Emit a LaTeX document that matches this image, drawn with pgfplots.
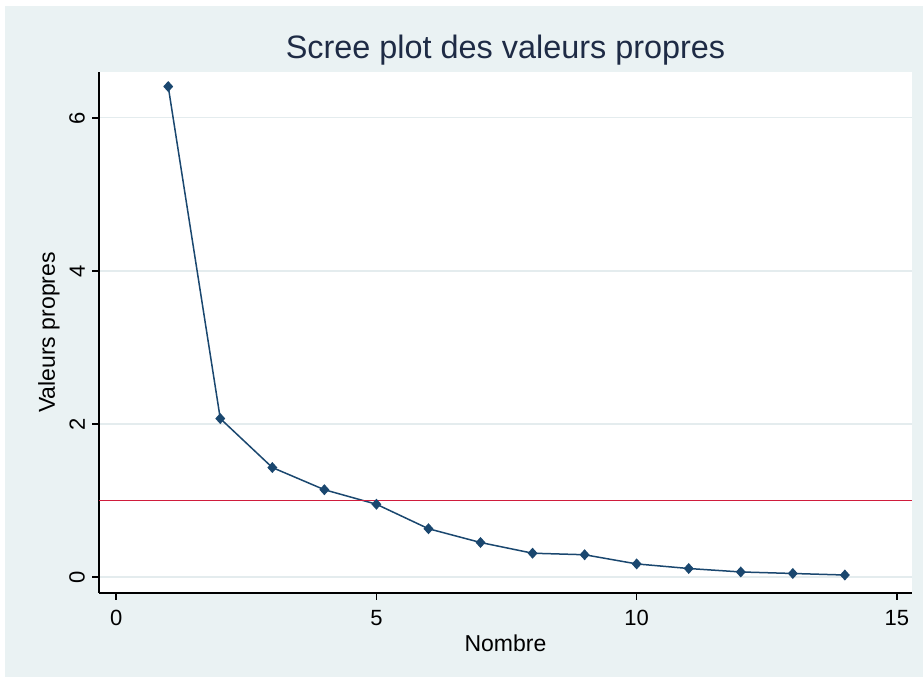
\documentclass[border=0pt]{standalone}
\usepackage{pgfplots}
\pgfplotsset{compat=1.18}
\usepackage{fontspec}
\setmainfont{Liberation Sans}
\definecolor{stbg}{HTML}{EAF2F3}
\definecolor{stgrid}{HTML}{E4ECEE}
\definecolor{stnavy}{HTML}{1A476F}
\definecolor{stred}{HTML}{D01C3C}
\definecolor{sttitle}{HTML}{1E2B45}

\begin{document}
\begin{tikzpicture}
	\fill[white] (0,0) rectangle (461.5pt,340pt);
	\fill[stbg] (2.5pt,1.5pt) rectangle (461.5pt,337pt);
	\begin{axis}[
		at={(49.5pt,43.5pt)}, anchor=south west,
		width=406.5pt, height=260.5pt, scale only axis,
		xmin=-0.33, xmax=15.29,
		ymin=-0.21, ymax=6.60,
		axis x line*=bottom, axis y line*=left,
		axis line style={black, line width=0.8pt, -},
		axis background/.style={fill=white},
		xtick={0,5,10,15}, ytick={0,2,4,6},
		tick align=outside, major tick length=3.5pt,
		tick style={black, line width=0.8pt},
		ymajorgrids, grid style={stgrid, line width=0.6pt},
		/pgf/number format/assume math mode=true,
		ticklabel style={font=\fontsize{11}{13}\selectfont},
		xticklabel style={yshift=-1.5pt},
		yticklabel style={rotate=90, anchor=south},
		xlabel={Nombre}, ylabel={Valeurs propres},
		label style={font=\fontsize{11.5}{14}\selectfont},
		xlabel style={at={(axis description cs:0.5,-0.096)}, anchor=center},
		ylabel style={at={(axis description cs:-0.0615,0.5)}, anchor=center},
		title={Scree plot des valeurs propres},
		title style={font=\fontsize{16.2}{19}\selectfont, color=sttitle,
			at={(axis description cs:0.5,1.002)}, anchor=base},
		]
		\addplot[stnavy, line width=0.75pt, mark=diamond*, mark size=2.2pt,
			mark options={fill=stnavy, draw=stnavy, xscale=1.2}] coordinates {
			(1,6.41) (2,2.07) (3,1.43) (4,1.14) (5,0.95) (6,0.63) (7,0.45)
			(8,0.31) (9,0.29) (10,0.17) (11,0.11) (12,0.065) (13,0.045) (14,0.025)};
		\addplot[stred, line width=0.75pt, mark=none] coordinates {(-0.33,1) (15.29,1)};
	\end{axis}
\end{tikzpicture}
\end{document}
